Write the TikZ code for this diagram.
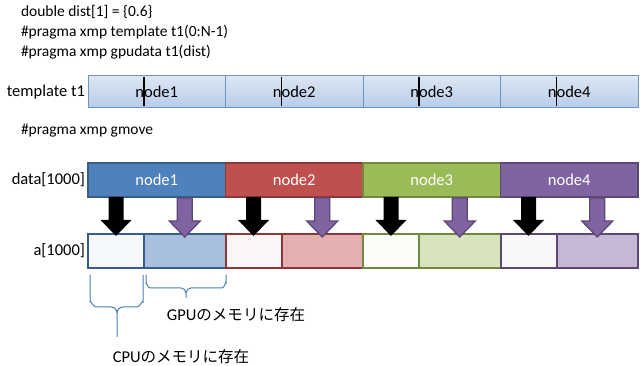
\documentclass[tikz,border=0pt]{standalone}
\usepackage{fontspec}
\setmainfont{Carlito}
\newfontfamily\cjk[Scale=0.94]{Noto Sans CJK JP}
\definecolor{bluF}{HTML}{4F81BD}\definecolor{bluD}{HTML}{385D8A}
\definecolor{redF}{HTML}{C0504D}\definecolor{redD}{HTML}{8C3836}
\definecolor{grnF}{HTML}{9BBB59}\definecolor{grnD}{HTML}{71893F}
\definecolor{purF}{HTML}{8064A2}\definecolor{purD}{HTML}{5C4776}
\definecolor{tmplTop}{HTML}{DCE6F4}\definecolor{tmplBot}{HTML}{B7CCE8}
\definecolor{tmplLine}{HTML}{6D94C6}
\definecolor{braceC}{HTML}{4A7EBB}
\tikzset{
  txt/.style={inner sep=0pt, outer sep=0pt},
  codetxt/.style={txt, anchor=west, font=\fontsize{15.5}{19}\selectfont},
  tcell/.style={draw=tmplLine, line width=1pt, top color=tmplTop, bottom color=tmplBot,
    minimum width=137.5pt, minimum height=32pt, inner sep=0pt, outer sep=0pt, text=black},
  dcell/.style={line width=1.5pt, minimum width=137.5pt, minimum height=34pt,
    inner sep=0pt, outer sep=0pt, text=white},
  acell/.style={line width=2pt, minimum height=34pt, inner sep=0pt, outer sep=0pt},
  pics/blockarrow/.style={code={
    \path[pic actions] (-7.5,0) -- (7.5,0) -- (7.5,23) -- (15.5,23) -- (0,39)
      -- (-15.5,23) -- (-7.5,23) -- cycle;}},
  blackarrow/.style={fill=black},
  purarrow/.style={fill=purF, draw=purD, line width=1.3pt},
  divline/.style={line width=1.4pt, black},
  bracestyle/.style={draw=braceC, line width=1pt}
}
\begin{document}
\begin{tikzpicture}[x=1pt,y=-1pt,font=\fontsize{16.5}{20}\selectfont]
\useasboundingbox (0,0) rectangle (641,366);

% top code text
\node[codetxt] (l1) at (21,12) {double dist[1] = \{0.6\}};
\node[codetxt] (l2) at (21,32) {\#pragma xmp template t1(0:N-1)};
\node[codetxt] (l3) at (21,52) {\#pragma xmp gpudata t1(dist)};
\node[codetxt] (l4) at (21,131) {\#pragma xmp gmove};

% row labels
\node[txt, anchor=east] (lt) at (85,92) {template t1};
\node[txt, anchor=east] (ld) at (85,180) {data[1000]};
\node[txt, anchor=east] (la) at (85,251) {a[1000]};

% template row
\node[tcell] (t1) at (156.75,92) {node1};
\node[tcell] (t2) at (294.25,92) {node2};
\node[tcell] (t3) at (431.75,92) {node3};
\node[tcell] (t4) at (569.25,92) {node4};

% data row
\node[dcell, fill=bluF, draw=bluD] (d1) at (156.75,180) {node1};
\node[dcell, fill=redF, draw=redD] (d2) at (294.25,180) {node2};
\node[dcell, fill=grnF, draw=grnD] (d3) at (431.75,180) {node3};
\node[dcell, fill=purF, draw=purD] (d4) at (569.25,180) {node4};

% a row
\node[acell, draw=bluD, fill=bluF!5, minimum width=56pt] (a1c) at (116,251) {};
\node[acell, draw=bluD, fill=bluF!50, minimum width=81.5pt] (a1g) at (184.75,251) {};
\node[acell, draw=redD, fill=redF!5, minimum width=56pt] (a2c) at (253.5,251) {};
\node[acell, draw=redD, fill=redF!45, minimum width=81.5pt] (a2g) at (322.25,251) {};
\node[acell, draw=grnD, fill=grnF!5, minimum width=56pt] (a3c) at (391,251) {};
\node[acell, draw=grnD, fill=grnF!40, minimum width=81.5pt] (a3g) at (459.75,251) {};
\node[acell, draw=purD, fill=purF!5, minimum width=56pt] (a4c) at (528.5,251) {};
\node[acell, draw=purD, fill=purF!45, minimum width=81.5pt] (a4g) at (597.25,251) {};

% black division lines in template
\foreach \i in {1,2,3,4}{
  \draw[divline] ([yshift=-1pt]t\i.north -| a\i c.east) -- ([yshift=2pt]t\i.south -| a\i c.east);
}

% arrows
\foreach \i in {1,2,3,4}{
  \pic[blackarrow] at (d\i.south -| a\i c) {blockarrow};
  \pic[purarrow] at ([yshift=-1pt]d\i.south -| a\i g) {blockarrow};
}

% braces
\draw[bracestyle] (90,275) -- (90,302) to[out=90,in=180] (96,307) -- (111,307)
  to[out=0,in=90] (117,313) -- (117,337);
\draw[bracestyle] (143,275) -- (143,302) to[out=90,in=0] (137,307) -- (123,307)
  to[out=180,in=90] (117,313);
\draw[bracestyle] (146,275) -- (146,283) to[out=90,in=180] (150,288) -- (181,288)
  to[out=0,in=90] (186,293) -- (186,298);
\draw[bracestyle] (226,275) -- (226,283) to[out=90,in=0] (222,288) -- (191,288)
  to[out=180,in=90] (186,293);

% brace labels
\node[txt] (gpu) at (236,315) {GPU{\cjk のメモリに存在}};
\node[txt] (cpu) at (181,357) {CPU{\cjk のメモリに存在}};
\end{tikzpicture}
\end{document}
